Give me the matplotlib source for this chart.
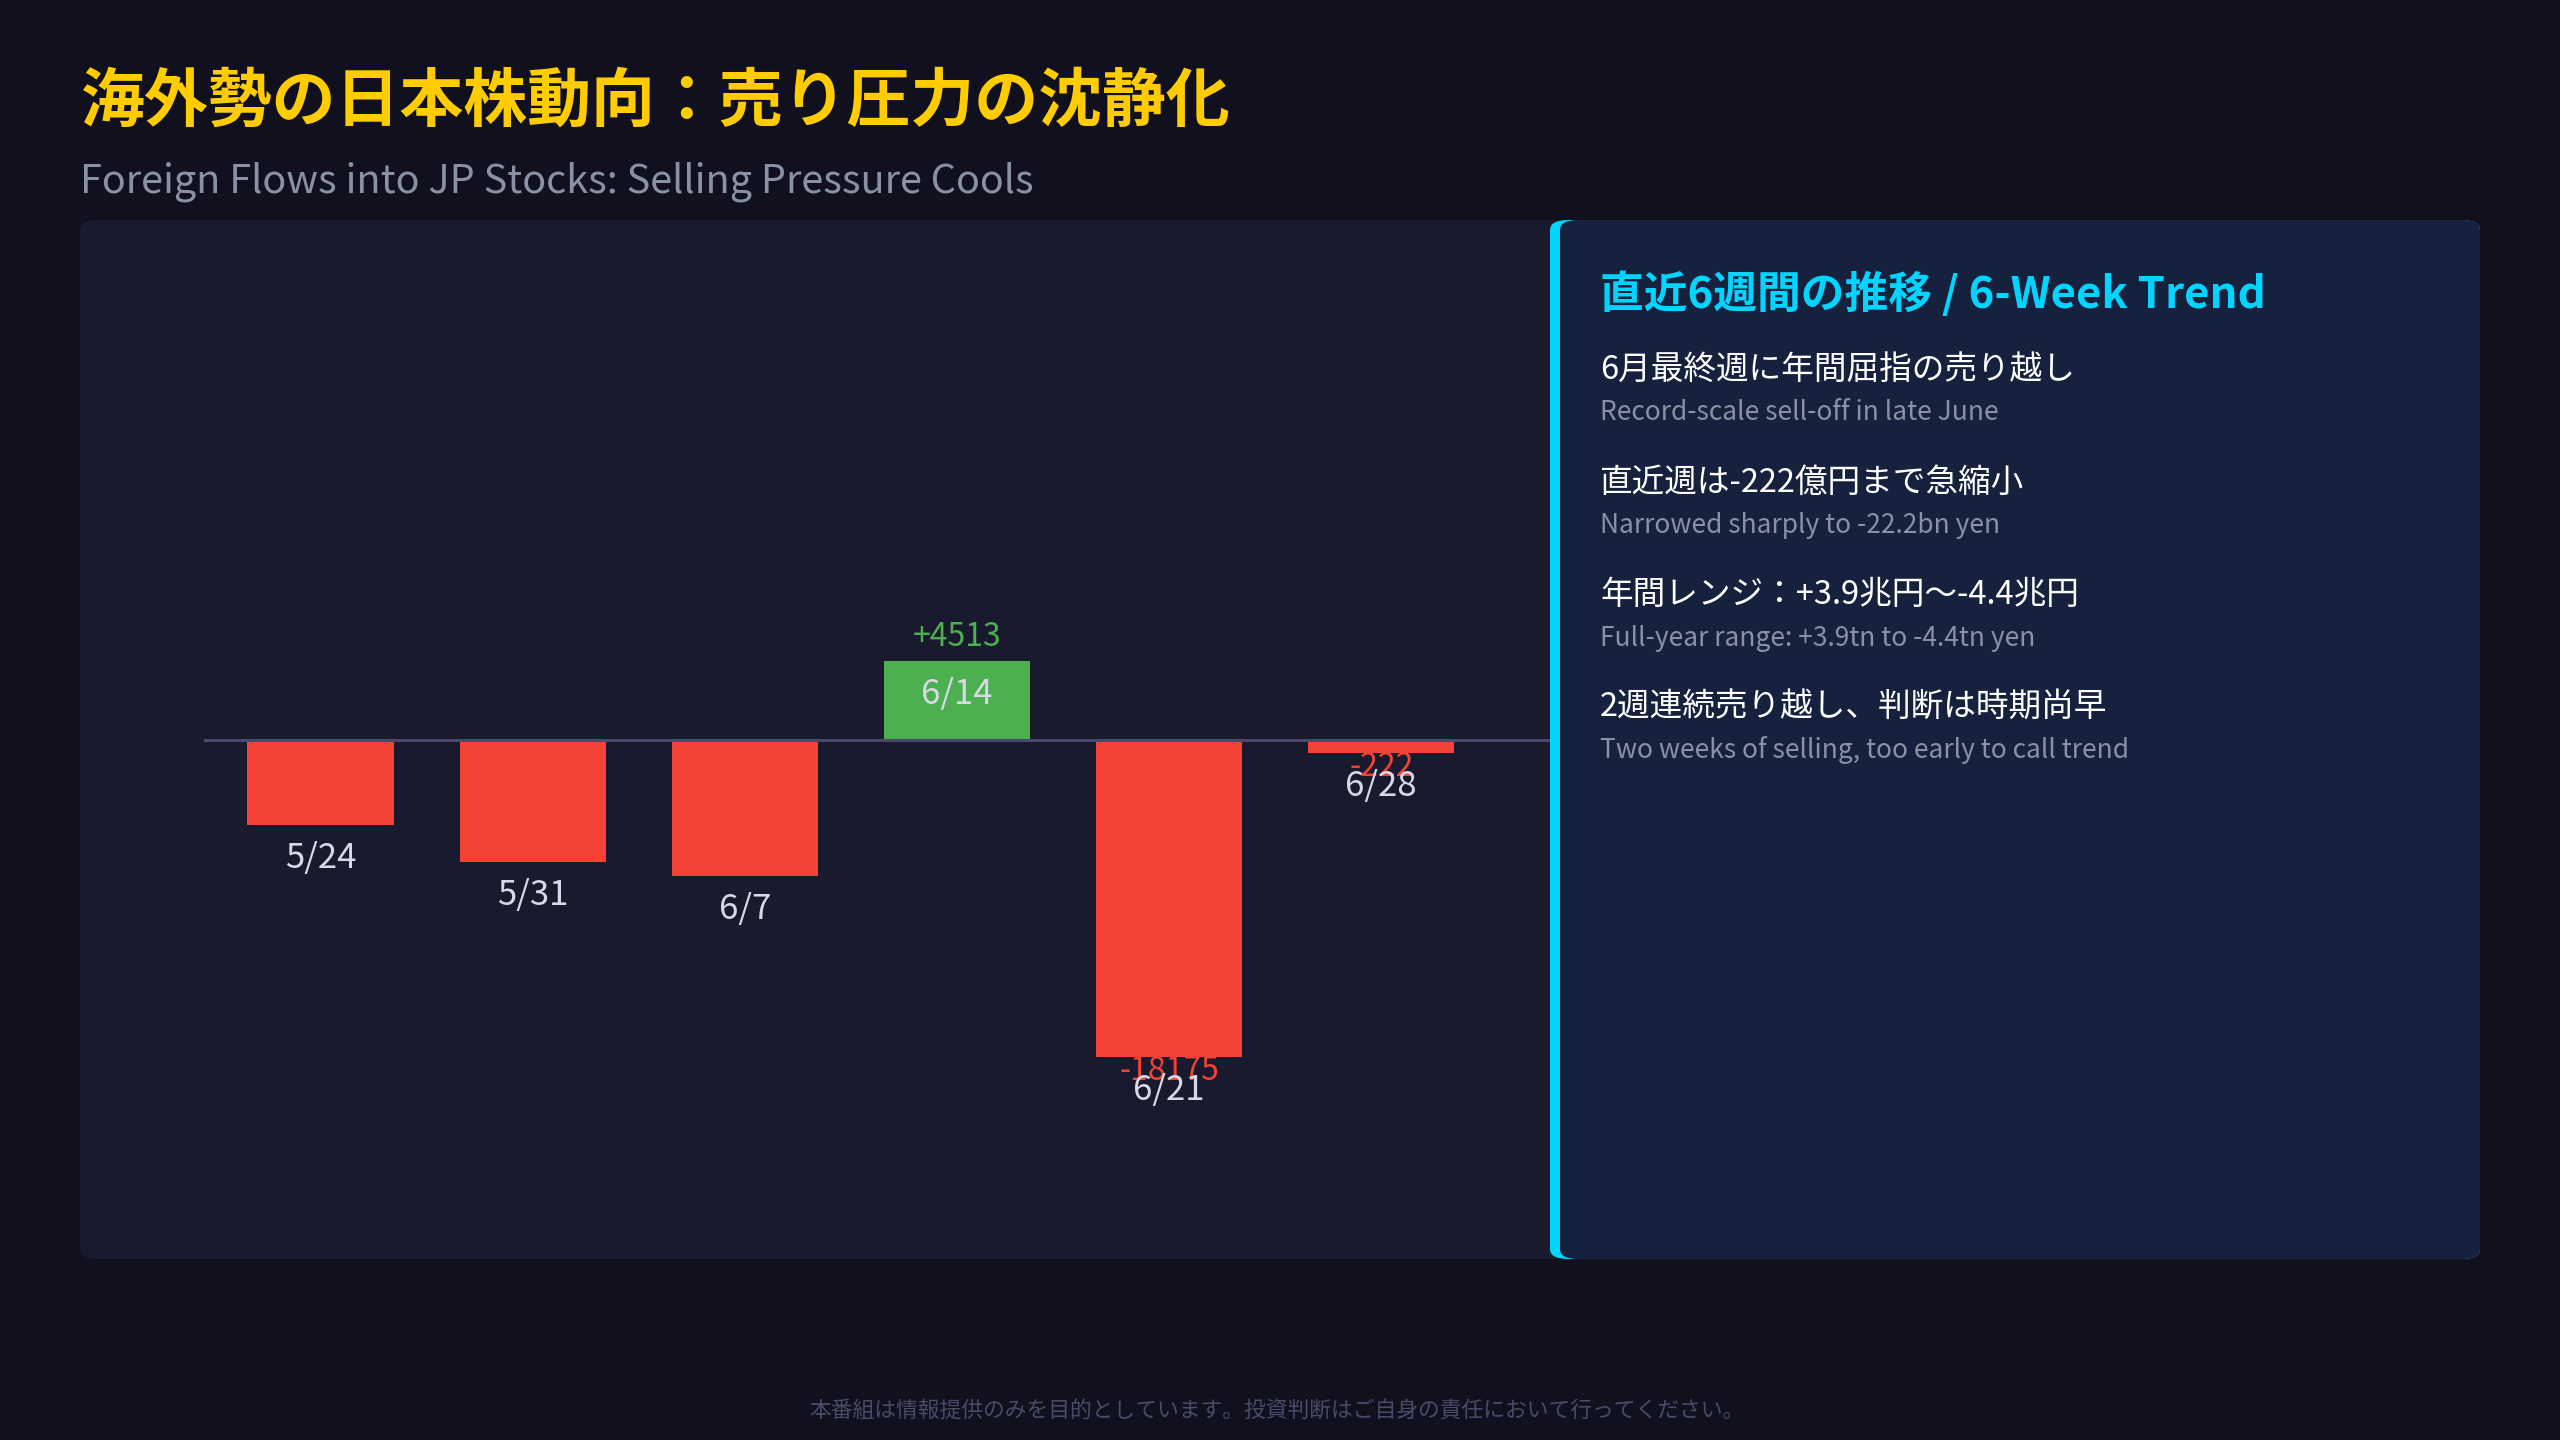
import numpy as np
import matplotlib
matplotlib.use("Agg")
import matplotlib.pyplot as plt
from matplotlib.patches import FancyBboxPatch

plt.rcParams['font.family'] = ['Noto Sans CJK JP', 'DejaVu Sans']

# weekly foreign net flows (100M yen)
weeks = ['5/24', '5/31', '6/7', '6/14', '6/21', '6/28']
flows = np.array([-4870, -6990, -7800, 4513, -18175, -222])
show_value = [False, False, False, True, True, True]

title = '海外勢の日本株動向：売り圧力の沈静化'
subtitle = 'Foreign Flows into JP Stocks: Selling Pressure Cools'
panel_title = '直近6週間の推移 / 6-Week Trend'
points_jp = ['6月最終週に年間屈指の売り越し',
             '直近週は-222億円まで急縮小',
             '年間レンジ：+3.9兆円〜-4.4兆円',
             '2週連続売り越し、判断は時期尚早']
points_en = ['Record-scale sell-off in late June',
             'Narrowed sharply to -22.2bn yen',
             'Full-year range: +3.9tn to -4.4tn yen',
             'Two weeks of selling, too early to call trend']
footer = '本番組は情報提供のみを目的としています。投資判断はご自身の責任において行ってください。'

BG = '#10101e'
PANEL = '#1a1a2e'
SIDE = '#16213e'
CYAN = '#00d4ff'
RED = '#f44336'
GREEN = '#4caf50'

W, H = 2560, 1440
fig = plt.figure(figsize=(25.6, 14.4), dpi=100, facecolor=BG)


def fx(x):
    return x / W


def fy(y):
    return 1 - y / H


# background panels (pixel boxes)
left_panel = FancyBboxPatch((fx(80), fy(1259)), fx(1500), (1259 - 220) / H,
                            boxstyle='round,pad=0,rounding_size=0.007',
                            transform=fig.transFigure, facecolor=PANEL,
                            edgecolor='none', zorder=-2)
fig.patches.append(left_panel)
cyan_edge = FancyBboxPatch((fx(1550), fy(1259)), fx(2480 - 1550), (1259 - 220) / H,
                           boxstyle='round,pad=0,rounding_size=0.007',
                           transform=fig.transFigure, facecolor=CYAN,
                           edgecolor='none', zorder=2)
fig.patches.append(cyan_edge)
side_panel = FancyBboxPatch((fx(1560), fy(1259)), fx(2480 - 1560), (1259 - 220) / H,
                            boxstyle='round,pad=0,rounding_size=0.007',
                            transform=fig.transFigure, facecolor=SIDE,
                            edgecolor='none', zorder=2.1)
fig.patches.append(side_panel)

# bar chart
ax = fig.add_axes([fx(204), fy(1259), fx(1551 - 204), (1259 - 220) / H])
ax.set_facecolor('none')
ax.axis('off')
ax.set_xlim(-0.55, 5.80)
ax.set_ylim(-29740, 29800)

x = np.arange(len(weeks))
min_h = 745  # keep tiny bars visible
heights = np.sign(flows) * np.maximum(np.abs(flows), min_h)
colors = [GREEN if v > 0 else RED for v in flows]
ax.bar(x, heights, width=0.69, color=colors, zorder=2)
ax.axhline(0, color='#4a4a6a', lw=2.2, zorder=3)

for i, (lab, v, h) in enumerate(zip(weeks, flows, heights)):
    ax.annotate(lab, (i, h), xytext=(0, -33), textcoords='offset pixels',
                ha='center', va='center', fontsize=25, color='#d8d8e6', zorder=5)
    if show_value[i]:
        if v > 0:
            ax.annotate(f'+{v}', (i, h), xytext=(0, 8), textcoords='offset pixels',
                        ha='center', va='bottom', fontsize=23, color=GREEN, zorder=5)
        else:
            ax.annotate(f'{v}', (i, h), xytext=(0, 2), textcoords='offset pixels',
                        ha='center', va='top', fontsize=23, color=RED, zorder=4)

# titles
fig.text(fx(80), fy(102), title, fontsize=46, fontweight='bold', color='#ffcc00',
         ha='left', va='center')
fig.text(fx(80), fy(182), subtitle, fontsize=28.5, color='#8892a4',
         ha='left', va='center')

# side panel text
fig.text(fx(1600), fy(294), panel_title, fontsize=31.5, fontweight='bold', color=CYAN,
         ha='left', va='center', zorder=5)
for k, (jp, en) in enumerate(zip(points_jp, points_en)):
    fig.text(fx(1600), fy(370 + k * 112.5), jp, fontsize=23.5, color='#ffffff',
             ha='left', va='center', zorder=5)
    fig.text(fx(1600), fy(413 + k * 112.5), en, fontsize=19, color='#8892a4',
             ha='left', va='center', zorder=5)

fig.text(fx(1277), fy(1411), footer, fontsize=15.7, color='#4a4a6a',
         ha='center', va='center')

fig.savefig('out.png', dpi=100, facecolor=BG)
